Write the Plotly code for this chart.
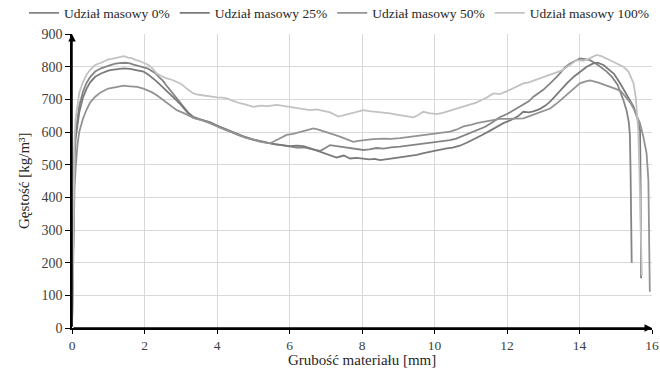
import plotly.graph_objects as go

# ---- data ----
x0 = [0, 0.02, 0.04, 0.07, 0.1, 0.15, 0.2, 0.3, 0.4, 0.5, 0.64, 0.8, 0.9, 1.0, 1.1, 1.2, 1.3, 1.47, 1.6, 1.7,
      1.8, 1.97, 2.1, 2.2, 2.3, 2.4, 2.5, 2.6, 2.75, 2.89, 3.0, 3.1, 3.2, 3.35, 3.5, 3.62, 3.8, 4.0, 4.2, 4.4,
      4.6, 4.8, 5.0, 5.2, 5.4, 5.6, 5.8, 6.0, 6.2, 6.4, 6.6, 6.84, 7.0, 7.12, 7.3, 7.5, 7.76, 7.9, 8.04, 8.2,
      8.4, 8.6, 8.8, 9.05, 9.2, 9.42, 9.6, 9.8, 10.0, 10.2, 10.43, 10.6, 10.8, 11.0, 11.2, 11.4, 11.6, 11.8, 12.0, 12.2,
      12.45, 12.6, 12.73, 12.9, 13.0, 13.19, 13.4, 13.6, 13.74, 13.9, 14.01, 14.15, 14.29, 14.5, 14.75, 14.9, 15.05, 15.21, 15.3, 15.36,
      15.39, 15.41, 15.43, 15.44]
y0 = [5, 190, 400, 545, 600, 650, 680, 722, 750, 768, 785, 795, 799, 804, 806, 809, 811, 812, 810, 806,
      803, 800, 794, 787, 780, 768, 758, 743, 722, 700, 688, 672, 660, 646, 641, 636, 629, 619, 609, 598,
      590, 583, 576, 571, 567, 563, 559, 556, 552, 553, 549, 542, 552, 560, 557, 554, 550, 547, 545, 547,
      551, 549, 553, 555, 557, 560, 562, 565, 568, 571, 575, 580, 589, 598, 606, 616, 630, 645, 655, 668,
      683, 694, 708, 720, 729, 749, 772, 798, 810, 819, 825, 823, 820, 806, 785, 768, 745, 698, 665, 630,
      590, 470, 330, 200]

x25 = [0, 0.02, 0.04, 0.07, 0.1, 0.15, 0.2, 0.3, 0.4, 0.5, 0.64, 0.8, 0.9, 1.0, 1.1, 1.2, 1.3, 1.43, 1.6, 1.7,
       1.8, 1.97, 2.1, 2.2, 2.3, 2.4, 2.5, 2.6, 2.75, 2.89, 3.0, 3.1, 3.2, 3.35, 3.5, 3.62, 3.8, 4.0, 4.2, 4.4,
       4.6, 4.8, 5.0, 5.2, 5.4, 5.6, 5.8, 6.0, 6.2, 6.38, 6.6, 6.84, 7.0, 7.21, 7.3, 7.5, 7.67, 7.85, 8.04, 8.2,
       8.35, 8.5, 8.7, 8.9, 9.05, 9.3, 9.51, 9.7, 9.9, 10.06, 10.3, 10.5, 10.7, 10.9, 11.1, 11.3, 11.5, 11.7, 11.9, 12.1,
       12.3, 12.45, 12.6, 12.73, 12.9, 13.05, 13.19, 13.4, 13.65, 13.85, 14.01, 14.2, 14.38, 14.5, 14.66, 14.8, 14.95, 15.12, 15.3, 15.49,
       15.6, 15.67, 15.685, 15.695, 15.70]
y25 = [5, 170, 380, 520, 580, 630, 660, 705, 732, 752, 769, 779, 784, 788, 790, 792, 793, 795, 793, 791,
       789, 785, 776, 768, 758, 748, 738, 727, 710, 696, 684, 670, 658, 643, 639, 637, 630, 620, 611, 600,
       592, 584, 577, 572, 566, 562, 560, 557, 558, 557, 549, 540, 532, 525, 522, 528, 519, 521, 519, 516,
       518, 514, 517, 520, 522, 526, 530, 535, 540, 545, 549, 552, 558, 568, 578, 590, 602, 615, 627, 636,
       648, 662, 660, 663, 670, 680, 693, 718, 749, 770, 785, 800, 810, 812, 805, 792, 778, 749, 715, 678,
       640, 606, 450, 300, 152]

x50 = [0, 0.02, 0.04, 0.07, 0.1, 0.15, 0.2, 0.3, 0.4, 0.5, 0.64, 0.8, 1.0, 1.2, 1.3, 1.43, 1.6, 1.8, 1.97, 2.1,
       2.2, 2.35, 2.5, 2.7, 2.89, 3.1, 3.35, 3.5, 3.62, 3.8, 4.08, 4.3, 4.54, 4.8, 5.0, 5.2, 5.46, 5.7, 5.92, 6.1,
       6.25, 6.4, 6.55, 6.66, 6.8, 6.95, 7.12, 7.25, 7.39, 7.6, 7.76, 7.9, 8.04, 8.3, 8.6, 8.8, 9.05, 9.25, 9.42, 9.6,
       9.8, 10.1, 10.25, 10.43, 10.6, 10.8, 11.0, 11.2, 11.5, 11.8, 12.0, 12.2, 12.45, 12.6, 12.8, 13.0, 13.19, 13.4, 13.6, 13.8,
       14.01, 14.15, 14.29, 14.5, 14.65, 14.84, 15.0, 15.15, 15.3, 15.4, 15.5, 15.6, 15.67, 15.76, 15.85, 15.9, 15.92, 15.94]
y50 = [5, 120, 300, 430, 490, 560, 600, 640, 668, 690, 708, 722, 733, 737, 738, 742, 740, 738, 733, 728,
       722, 712, 700, 684, 667, 657, 643, 639, 635, 627, 613, 603, 592, 582, 576, 570, 565, 578, 591, 594,
       598, 604, 607, 611, 607, 601, 596, 591, 586, 577, 570, 573, 575, 578, 580, 579, 581, 584, 586, 588,
       590, 595, 597, 601, 607, 617, 622, 628, 634, 640, 640, 641, 642, 648, 656, 662, 672, 690, 710, 730,
       749, 754, 758, 752, 746, 739, 732, 724, 703, 690, 670, 645, 627, 586, 535, 453, 300, 111]

x100 = [0, 0.02, 0.04, 0.07, 0.1, 0.15, 0.2, 0.3, 0.4, 0.5, 0.64, 0.8, 0.9, 1.0, 1.1, 1.2, 1.3, 1.43, 1.55, 1.65,
        1.75, 1.85, 1.97, 2.1, 2.2, 2.34, 2.45, 2.61, 2.75, 2.89, 3.0, 3.16, 3.35, 3.5, 3.65, 3.81, 4.0, 4.15, 4.27, 4.45,
        4.63, 4.8, 5.0, 5.2, 5.4, 5.65, 5.85, 6.05, 6.25, 6.4, 6.57, 6.75, 6.95, 7.12, 7.35, 7.5, 7.7, 7.85, 8.04, 8.2,
        8.4, 8.6, 8.77, 8.95, 9.1, 9.25, 9.42, 9.55, 9.69, 9.85, 10.06, 10.25, 10.45, 10.65, 10.8, 10.98, 11.15, 11.3, 11.45, 11.62,
        11.8, 12.0, 12.2, 12.45, 12.6, 12.8, 13.0, 13.19, 13.35, 13.5, 13.7, 13.92, 14.1, 14.25, 14.47, 14.6, 14.8, 15.0, 15.21, 15.35,
        15.49, 15.55, 15.62, 15.66, 15.69, 15.72]
y100 = [10, 230, 440, 580, 640, 690, 720, 752, 775, 790, 805, 812, 818, 822, 824, 827, 829, 832, 828, 826,
        821, 818, 812, 806, 797, 779, 772, 764, 760, 754, 748, 733, 718, 714, 711, 708, 706, 705, 703, 695,
        688, 684, 677, 681, 679, 683, 680, 677, 674, 671, 667, 669, 663, 660, 647, 651, 656, 661, 667, 664,
        662, 660, 657, 653, 650, 648, 645, 652, 662, 658, 655, 659, 666, 672, 676, 683, 690, 698, 706, 718,
        716, 725, 735, 749, 752, 760, 766, 774, 780, 788, 802, 820, 818, 824, 836, 832, 822, 812, 800, 785,
        749, 708, 606, 450, 300, 160]

series_names = ["Udział masowy 0%", "Udział masowy 25%", "Udział masowy 50%", "Udział masowy 100%"]
x_ticks = [0, 2, 4, 6, 8, 10, 12, 14, 16]
y_ticks = [0, 100, 200, 300, 400, 500, 600, 700, 800, 900]

colors = ["#858585", "#7a7a7a", "#939393", "#c2c2c2"]
FONT = "Liberation Serif"

fig = go.Figure()
for xs, ys, name, col in zip([x0, x25, x50, x100], [y0, y25, y50, y100], series_names, colors):
    fig.add_trace(go.Scatter(x=xs, y=ys, mode="lines", name=name,
                             line=dict(color=col, width=1.8)))

fig.update_layout(
    width=660, height=371,
    margin=dict(l=72, r=8, t=34, b=43, autoexpand=False),
    paper_bgcolor="white", plot_bgcolor="white",
    font=dict(family=FONT, size=14, color="#404040"),
    showlegend=True,
    legend=dict(orientation="h", x=(24 - 72) / 580, xanchor="left", y=(328 - 13) / 294, yanchor="middle",
                font=dict(family=FONT, size=13.5, color="#262626"),
                bgcolor="rgba(0,0,0,0)", borderwidth=0),
)
fig.update_xaxes(range=[0, 16], tickvals=x_ticks, showgrid=True, gridcolor="#d9d9d9", gridwidth=1,
                 zeroline=False, showline=True, linecolor="black", linewidth=1.5,
                 ticks="outside", ticklen=4, tickcolor="black", tickfont=dict(family=FONT, size=13.5, color="#404040"))
fig.update_yaxes(range=[0, 900], tickvals=y_ticks, showgrid=True, gridcolor="#d9d9d9", gridwidth=1,
                 zeroline=False, showline=True, linecolor="black", linewidth=1.5,
                 ticks="outside", ticklen=5, tickcolor="black", tickfont=dict(family=FONT, size=14, color="#404040"))

# axis arrows
fig.add_annotation(x=16, y=0, ax=0, ay=0, xref="x", yref="y", axref="x", ayref="y",
                   showarrow=True, arrowhead=2, arrowsize=1, arrowwidth=1.5, arrowcolor="black", text="")
fig.add_annotation(x=0, y=900, ax=0, ay=0, xref="x", yref="y", axref="x", ayref="y",
                   showarrow=True, arrowhead=2, arrowsize=1, arrowwidth=1.5, arrowcolor="black", text="")

# axis titles
fig.add_annotation(text="Grubość materiału [mm]", xref="paper", yref="paper",
                   x=0.5, y=-(360 - 328) / 294, xanchor="center", yanchor="middle", showarrow=False,
                   font=dict(family=FONT, size=15, color="#262626"))
fig.add_annotation(text="Gęstość [kg/m³]", xref="paper", yref="paper",
                   x=(24 - 72) / 580, y=0.5, xanchor="center", yanchor="middle", showarrow=False,
                   textangle=-90, font=dict(family=FONT, size=15, color="#262626"))

fig.write_html("out.html", config={"displayModeBar": False},
               post_script="document.body.style.margin='0';document.body.style.overflow='hidden';")
